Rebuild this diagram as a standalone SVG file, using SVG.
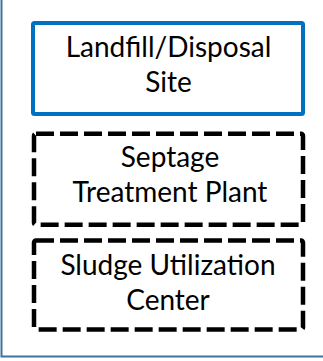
<svg xmlns="http://www.w3.org/2000/svg" width="323" height="361" viewBox="0 0 323 361">
<style>
.frame{fill:none;stroke:#41719C;stroke-width:2}
.solid{fill:#fff;stroke:#0070C0;stroke-width:4}
.dash{fill:#fff;stroke:#000;stroke-width:4.5;stroke-dasharray:18 6}
text{font-family:"Lato","Noto Sans",sans-serif;font-size:28px;fill:#000;text-anchor:middle}
</style>
<rect class="frame" x="1.5" y="-5" width="330" height="361.5"/>
<g id="landfill">
<rect class="solid" x="33" y="23" width="270" height="91" rx="1.5"/>
<text x="168.5" y="56.7">Landfill/Disposal</text>
<text x="168.5" y="91.7">Site</text>
</g>
<g id="septage">
<rect class="dash" x="34" y="133.8" width="269" height="91" rx="2"/>
<text x="170" y="166.7">Septage</text>
<text x="170" y="201.7">Treatment Plant</text>
</g>
<g id="sludge">
<rect class="dash" x="34" y="240.5" width="269" height="89" rx="2"/>
<text x="168" y="275">Sludge Utilization</text>
<text x="168" y="310">Center</text>
</g>
<g id="connectors"/>
</svg>
